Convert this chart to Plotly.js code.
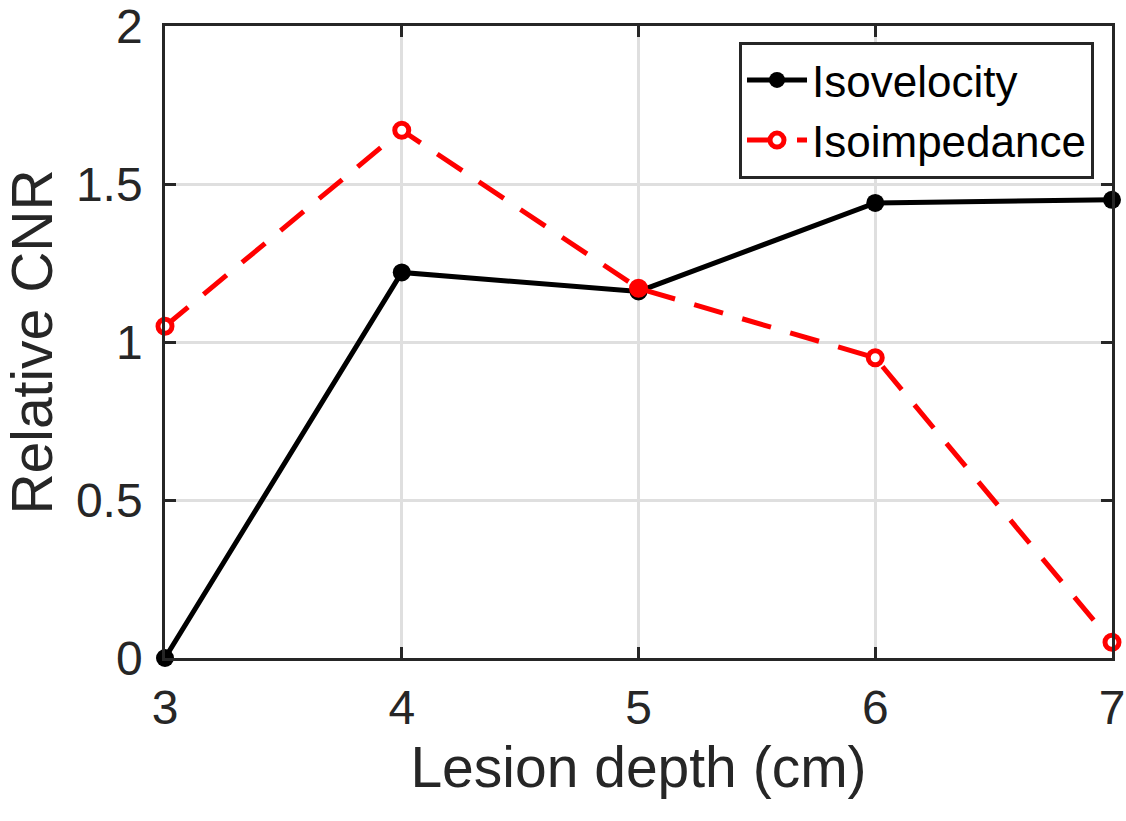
<!DOCTYPE html>
<html>
<head>
<meta charset="utf-8">
<script src="https://cdn.plot.ly/plotly-3.0.1.min.js"></script>
<style>html,body{margin:0;padding:0;background:#fff;}#chart{width:1126px;height:821px;}</style>
</head>
<body>
<div id="chart"></div>
<script>
const depths = [3, 4, 5, 6, 7];
const isovelocity = [0, 1.22, 1.16, 1.44, 1.45];
const isoimpedance = [1.05, 1.67, 1.17, 0.95, 0.05];
const xTickVals = [3, 4, 5, 6, 7];
const yTickVals = [0, 0.5, 1, 1.5, 2];
const yTickText = ['0', '0.5', '1', '1.5', '2'];

const FONT = 'Liberation Sans, Arial, sans-serif';

const traces = [
  {
    x: depths, y: isovelocity, name: 'Isovelocity', type: 'scatter', mode: 'lines+markers',
    cliponaxis: false,
    line: {color: '#000000', width: 5},
    marker: {symbol: 'circle', size: 18, color: '#000000'}
  },
  {
    x: depths, y: isoimpedance, name: 'Isoimpedance', type: 'scatter', mode: 'lines+markers',
    cliponaxis: false,
    line: {color: '#ff0000', width: 5, dash: '30px,20px'},
    marker: {symbol: 'circle', size: 14, color: ['#ffffff','#ffffff','#ff0000','#ffffff','#ffffff'], line: {color: '#ff0000', width: 5}}
  }
];

const axisCommon = {
  showline: true, linecolor: '#262626', linewidth: 2.5, mirror: 'ticks',
  ticks: 'inside', ticklen: 11, tickwidth: 2.5, tickcolor: '#262626',
  showgrid: true, gridcolor: '#dfdfdf', gridwidth: 2.5, zeroline: false,
  ticklabeloverflow: 'allow',
  tickfont: {family: FONT, size: 48, color: '#262626'}
};

const layout = {
  width: 1126, height: 821,
  margin: {l: 165, r: 14, t: 26, b: 163},
  paper_bgcolor: '#ffffff', plot_bgcolor: '#ffffff',
  showlegend: true,
  legend: {
    x: 0.981, xanchor: 'right', y: 0.975, yanchor: 'top',
    bgcolor: '#ffffff', bordercolor: '#262626', borderwidth: 3,
    font: {family: FONT, size: 44, color: '#000000'},
    itemwidth: 60, tracegroupgap: 0
  },
  xaxis: Object.assign({}, axisCommon, {
    range: [3, 7], tickvals: xTickVals, ticklabelstandoff: 6,
    title: {text: 'Lesion depth (cm)', font: {family: FONT, size: 57, color: '#262626'}, standoff: 14}
  }),
  yaxis: Object.assign({}, axisCommon, {
    range: [0, 2], tickvals: yTickVals, ticktext: yTickText, ticklabelstandoff: 10,
    title: {text: 'Relative CNR', font: {family: FONT, size: 57, color: '#262626'}, standoff: 8}
  })
};

Plotly.newPlot('chart', traces, layout, {displayModeBar: false, responsive: false});
</script>
</body>
</html>
